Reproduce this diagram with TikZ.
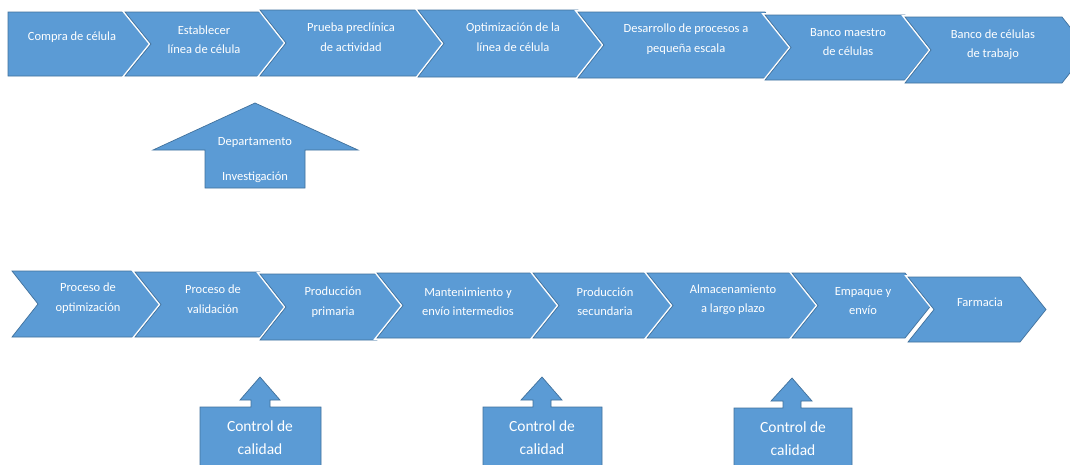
\documentclass[tikz,border=0pt]{standalone}
\usepackage{fontspec}
\setmainfont{Carlito}
\definecolor{boxfill}{HTML}{5B9BD5}
\definecolor{boxline}{HTML}{41719C}
\tikzset{
  shp/.style={fill=boxfill, draw=boxline, line width=0.7pt, line join=miter,
    preaction={draw=white, line width=3.6pt}},
  lbl/.style={text=white, align=center, inner sep=0pt, font=\fontsize{12.5}{19.5}\selectfont},
  biglbl/.style={text=white, align=center, inner sep=0pt, font=\fontsize{15.5}{23}\selectfont}
}
\newcommand\tipd{26}
% chevron with notch: L R T B
\newcommand\mychev[4]{%
  \draw[shp] (#1,#3) -- (#2,#3) -- ({#2+\tipd},{(#3+#4)/2}) -- (#2,#4) -- (#1,#4) -- ({#1+\tipd},{(#3+#4)/2}) -- cycle;}
% pentagon (flat left): L R T B
\newcommand\mypent[4]{%
  \draw[shp] (#1,#3) -- (#2,#3) -- ({#2+\tipd},{(#3+#4)/2}) -- (#2,#4) -- (#1,#4) -- cycle;}
% up arrow with box: tipx tipy headL headR headbase stemL stemR boxL boxR boxtop boxbottom
\newcommand\myuparrow[9]{%
  \draw[shp] (#1,#2) -- (#4,#5) -- (#7,#5) -- (#7,#8) -- (#9,#8) -- (#9,470) -- (#6,470) -- (#6,#8) -- (#3,#8) -- (#3,#5) -- (#1,#5) -- cycle;}
\begin{document}
\begin{tikzpicture}[x=1pt,y=-1pt]
\useasboundingbox[fill=white] (0,0) rectangle (1070,464);
% top row
\mypent{8}{126}{12}{76}
\mychev{125}{260}{12}{76}
\mychev{260}{418}{10}{76}
\mychev{418}{578}{10}{77}
\mychev{578}{765}{12}{78}
\mychev{765}{905}{15}{80}
\mychev{905}{1062}{17}{83}
\node[lbl] (t1) at (72,37) {Compra de célula};
\node[lbl] (t2) at (204,39.5) {Establecer\\línea de célula};
\node[lbl] (t3) at (351,37) {Prueba preclínica\\de actividad};
\node[lbl] (t4) at (513,37) {Optimización de la\\línea de célula};
\node[lbl] (t5) at (686,39) {Desarrollo de procesos a\\pequeña escala};
\node[lbl] (t6) at (848,42) {Banco maestro\\de células};
\node[lbl] (t7) at (993,44.5) {Banco de células\\de trabajo};
% department arrow
\draw[shp] (255,103) -- (358,150) -- (305,150) -- (305,188) -- (205,188) -- (205,150) -- (153,150) -- cycle;
\node[lbl, font=\fontsize{12.5}{35}\selectfont] (dep) at (255,160.5) {Departamento\\Investigación};
% bottom row
\mychev{12}{135}{271}{337}
\mychev{135}{260}{272}{337}
\mychev{260}{377}{274}{340}
\mychev{377}{533}{273}{338}
\mychev{533}{647}{273}{338}
\mychev{647}{792}{273}{338}
\mychev{792}{905}{273}{338}
\mychev{908}{1020}{277}{342}
\node[lbl] (b1) at (88,298) {Proceso de\\optimización};
\node[lbl] (b2) at (213,299) {Proceso de\\validación};
\node[lbl] (b3) at (333,302) {Producción\\primaria};
\node[lbl] (b4) at (468,301.5) {Mantenimiento y\\envío intermedios};
\node[lbl] (b5) at (605,301.5) {Producción\\secundaria};
\node[lbl] (b6) at (733,299.5) {Almacenamiento\\a largo plazo};
\node[lbl] (b7) at (863,301) {Empaque y\\envío};
\node[lbl] (b8) at (980,302) {Farmacia};
% quality control arrows
\draw[shp] (260,377) -- (280,400) -- (270,400) -- (270,407) -- (321,407) -- (321,470) -- (200,470) -- (200,407) -- (251,407) -- (251,400) -- (240,400) -- cycle;
\draw[shp] (542,377) -- (562,400) -- (551,400) -- (551,407) -- (602,407) -- (602,470) -- (483,470) -- (483,407) -- (533,407) -- (533,400) -- (521,400) -- cycle;
\draw[shp] (792,378) -- (812,401) -- (801,401) -- (801,408) -- (852,408) -- (852,470) -- (734,470) -- (734,408) -- (783,408) -- (783,401) -- (771,401) -- cycle;
\node[biglbl] (q1) at (260,438) {Control de\\calidad};
\node[biglbl] (q2) at (542,438) {Control de\\calidad};
\node[biglbl] (q3) at (793,439) {Control de\\calidad};
\end{tikzpicture}
\end{document}
